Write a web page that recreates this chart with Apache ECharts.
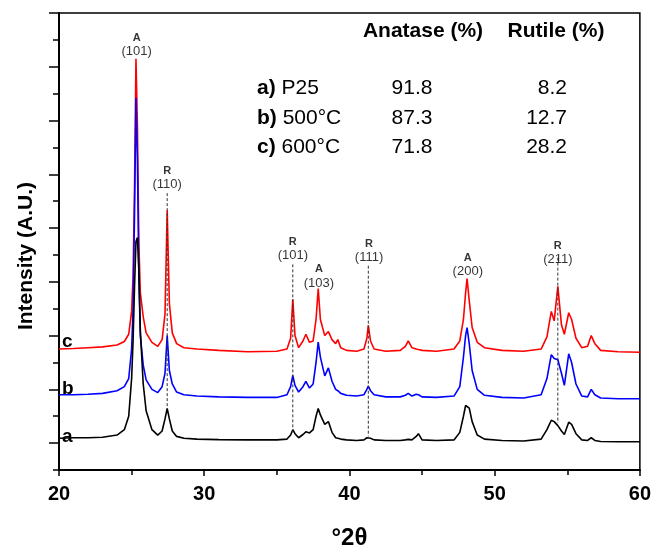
<!DOCTYPE html>
<html>
<head>
<meta charset="utf-8">
<script src="https://cdn.jsdelivr.net/npm/echarts@6/dist/echarts.min.js"></script>
<style>
html, body { margin: 0; padding: 0; background: #fff; }
#main { width: 654px; height: 555px; }
</style>
</head>
<body>
<div id="main"></div>
<script>
// 2theta positions shared by the three patterns
var twoTheta = [20, 21, 22, 23, 24, 24.5, 24.8, 25.0, 25.1, 25.2,
    25.3, 25.4, 25.5, 25.6, 25.8, 26.0, 26.4, 26.8, 27.1, 27.3,
    27.45, 27.6, 27.8, 28.1, 28.6, 29.5, 31, 33, 35, 35.7,
    35.95, 36.1, 36.25, 36.5, 36.8, 37.0, 37.25, 37.5, 37.7, 37.85,
    38.0, 38.3, 38.55, 38.8, 39.05, 39.2, 39.4, 39.8, 40.5, 41.0,
    41.2, 41.3, 41.45, 41.7, 42.5, 43.5, 43.85, 44.05, 44.3, 44.6,
    44.75, 45.0, 46, 47.2, 47.6, 47.85, 48.0, 48.1, 48.25, 48.45,
    48.8, 49.3, 50.5, 52, 53.2, 53.6, 53.9, 54.1, 54.35, 54.6,
    54.8, 55.1, 55.3, 55.6, 56.0, 56.4, 56.65, 56.9, 57.3, 58.5,
    60];

// a) P25 (black)
var curveA = [1.18, 1.2, 1.2, 1.22, 1.3, 1.5, 2.0, 3.4, 4.8, 6.8,
    8.5, 8.65, 7.4, 5.2, 3.2, 2.2, 1.5, 1.3, 1.45, 1.9,
    2.29, 1.9, 1.45, 1.25, 1.18, 1.15, 1.13, 1.12, 1.12, 1.15,
    1.3, 1.5, 1.35, 1.2, 1.32, 1.42, 1.38, 1.5, 2.0, 2.29,
    2.05, 1.7, 1.8, 1.4, 1.2, 1.18, 1.15, 1.12, 1.1, 1.12,
    1.2, 1.27, 1.18, 1.12, 1.1, 1.1, 1.12, 1.14, 1.12, 1.25,
    1.35, 1.12, 1.1, 1.12, 1.4, 2.0, 2.4, 2.47, 2.3, 1.8,
    1.3, 1.15, 1.1, 1.08, 1.15, 1.5, 1.85, 1.8, 1.65, 1.45,
    1.32, 1.78, 1.7, 1.35, 1.12, 1.1, 1.2, 1.1, 1.06, 1.05,
    1.05];

// b) 500 C (blue)
var curveB = [2.8, 2.8, 2.82, 2.85, 2.95, 3.1, 3.4, 4.5, 6.0, 9.5,
    13.85, 11.5, 7.2, 5.0, 3.9, 3.35, 3.0, 2.88, 3.1, 3.6,
    5.0, 3.7, 3.2, 2.9, 2.8, 2.75, 2.72, 2.7, 2.7, 2.8,
    3.1, 3.52, 3.15, 2.9, 3.1, 3.3, 3.05, 3.2, 4.0, 4.76,
    4.2, 3.5, 3.8, 3.3, 3.0, 2.95, 2.85, 2.78, 2.75, 2.8,
    3.0, 3.12, 2.95, 2.8, 2.72, 2.72, 2.78, 2.85, 2.75, 2.82,
    2.8, 2.72, 2.7, 2.75, 3.1, 4.2, 5.0, 5.3, 4.7, 3.7,
    3.0, 2.78, 2.7, 2.68, 2.8, 3.4, 4.29, 4.15, 4.1, 3.6,
    3.15, 4.32, 4.0, 3.2, 2.75, 2.72, 3.0, 2.8, 2.68, 2.65,
    2.65];

// c) 600 C (red)
var curveC = [4.5, 4.52, 4.55, 4.58, 4.65, 4.78, 5.05, 5.9, 7.2, 10.5,
    15.3, 12.8, 8.4, 6.6, 5.7, 5.1, 4.75, 4.6, 4.85, 5.8,
    9.66, 6.2, 5.1, 4.7, 4.55, 4.5, 4.45, 4.4, 4.42, 4.5,
    4.9, 6.35, 5.0, 4.55, 4.8, 5.05, 4.75, 4.8, 5.6, 6.75,
    5.6, 5.0, 5.15, 4.85, 4.7, 4.85, 4.55, 4.45, 4.42, 4.5,
    4.9, 5.38, 4.8, 4.5, 4.42, 4.45, 4.6, 4.8, 4.55, 4.5,
    4.48, 4.45, 4.42, 4.5, 4.8, 5.6, 6.6, 7.12, 6.3, 5.3,
    4.75, 4.55, 4.45, 4.42, 4.5, 4.95, 5.9, 5.55, 6.83, 5.4,
    5.05, 5.85, 5.6, 4.9, 4.55, 4.6, 5.0, 4.7, 4.45, 4.4,
    4.38];

// peak labels
var peakPhase = ['A', 'R', 'R', 'A', 'R', 'A', 'R'];
var peakHkl = ['(101)', '(110)', '(101)', '(103)', '(111)', '(200)', '(211)'];
var peakTheta = [25.35, 27.45, 36.1, 37.9, 41.35, 48.15, 54.35];
var peakLabelY = [15.29, 10.35, 7.7, 6.68, 7.63, 7.12, 7.56];

// dashed rutile reference lines
var refTheta = [27.45, 36.1, 41.3, 54.35];
var refTop = [10.3, 7.65, 7.6, 7.9];
var refBottom = [2.3, 1.38, 1.25, 1.75];

// phase table
var sampleTag = ['a)', 'b)', 'c)'];
var sampleName = ['P25', '500°C', '600°C'];
var anatasePct = ['91.8', '87.3', '71.8'];
var rutilePct = ['8.2', '12.7', '28.2'];

var yMajorTicks = [1, 3, 5, 7, 9, 11, 13, 15, 17];

var font = 'Liberation Sans, Arial, sans-serif';

function pairs(ys) {
    return twoTheta.map(function (t, i) { return [t, ys[i]]; });
}

var series = [
    { name: 'c', type: 'line', data: pairs(curveC), color: '#ff0000' },
    { name: 'b', type: 'line', data: pairs(curveB), color: '#0000ff' },
    { name: 'a', type: 'line', data: pairs(curveA), color: '#000000' }
].map(function (s) {
    s.showSymbol = false;
    s.symbol = 'none';
    s.lineStyle = { width: 1.6, color: s.color };
    s.animation = false;
    return s;
});

for (var i = 0; i < refTheta.length; i++) {
    series.push({
        type: 'line',
        data: [[refTheta[i], refTop[i]], [refTheta[i], refBottom[i]]],
        symbol: 'none',
        lineStyle: { color: '#333', width: 1, type: [3, 2] },
        z: 5,
        animation: false
    });
}

series.push({
    type: 'scatter',
    symbolSize: 1,
    itemStyle: { color: 'rgba(0,0,0,0)' },
    data: peakTheta.map(function (t, i) {
        return [t, peakLabelY[i]];
    }),
    label: {
        show: true,
        position: 'top',
        distance: 0,
        color: '#000',
        fontFamily: font,
        formatter: function (p) {
            return '{p|' + peakPhase[p.dataIndex] + '}\n{h|' + peakHkl[p.dataIndex] + '}';
        },
        rich: {
            p: { fontSize: 11, fontWeight: 'bold', lineHeight: 13, fontFamily: font, color: '#000' },
            h: { fontSize: 13, lineHeight: 14, fontFamily: font, color: '#000' }
        }
    },
    z: 6,
    animation: false
});

var graphics = [{
    type: 'text', x: 26, y: 256, rotation: Math.PI / 2,
    style: { text: 'Intensity (A.U.)', font: 'bold 21px ' + font, fill: '#000', textAlign: 'center', textVerticalAlign: 'middle' }
}, {
    type: 'text', x: 423, y: 31,
    style: { text: 'Anatase (%)', font: 'bold 21px ' + font, fill: '#000', textAlign: 'center', textVerticalAlign: 'middle' }
}, {
    type: 'text', x: 556, y: 31,
    style: { text: 'Rutile (%)', font: 'bold 21px ' + font, fill: '#000', textAlign: 'center', textVerticalAlign: 'middle' }
}];

var rowY = [88, 118, 147];
for (var r = 0; r < 3; r++) {
    graphics.push({
        type: 'text', x: 257, y: rowY[r],
        style: {
            text: '{b|' + sampleTag[r] + '} ' + sampleName[r],
            font: '21px ' + font, fill: '#000', textVerticalAlign: 'middle',
            rich: { b: { fontWeight: 'bold', fontSize: 21, fontFamily: font } }
        }
    });
    graphics.push({
        type: 'text', x: 412, y: rowY[r],
        style: { text: anatasePct[r], font: '21px ' + font, fill: '#000', textAlign: 'center', textVerticalAlign: 'middle' }
    });
    graphics.push({
        type: 'text', x: 567, y: rowY[r],
        style: { text: rutilePct[r], font: '21px ' + font, fill: '#000', textAlign: 'right', textVerticalAlign: 'middle' }
    });
}

var letterY = { c: 342, b: 389, a: 437 };
['c', 'b', 'a'].forEach(function (k) {
    graphics.push({
        type: 'text', x: 62, y: letterY[k],
        style: { text: k, font: 'bold 19px ' + font, fill: '#000', textVerticalAlign: 'middle' }
    });
});

var myChart = echarts.init(document.getElementById('main'));
var option = {
    animation: false,
    backgroundColor: '#fff',
    grid: {
        left: 59, right: 13, top: 13, bottom: 74,
        show: true, borderColor: '#000', borderWidth: 1.5
    },
    xAxis: {
        type: 'value',
        min: 20, max: 60, interval: 10,
        name: '°2θ',
        nameLocation: 'middle',
        nameGap: 56,
        nameTextStyle: { fontSize: 24, fontWeight: 'bold', color: '#000', fontFamily: font },
        axisLine: { show: true, onZero: false, lineStyle: { color: '#000', width: 2 } },
        axisTick: { show: true, length: 6, lineStyle: { color: '#000', width: 1.5 } },
        minorTick: { show: true, splitNumber: 2, length: 5, lineStyle: { color: '#000', width: 1.5 } },
        axisLabel: { fontSize: 20, fontWeight: 'bold', color: '#000', margin: 14, fontFamily: font },
        splitLine: { show: false }
    },
    yAxis: [{
        type: 'value',
        min: 0, max: 17, interval: 1,
        axisLine: { show: true, onZero: false, lineStyle: { color: '#000', width: 2 } },
        axisTick: { show: true, length: 6, lineStyle: { color: '#000', width: 1.5 } },
        axisLabel: { show: false },
        splitLine: { show: false }
    }, {
        type: 'value',
        min: 0, max: 17,
        position: 'left',
        axisLine: { show: false },
        axisTick: { show: true, length: 10, customValues: yMajorTicks, lineStyle: { color: '#000', width: 1.5 } },
        axisLabel: { show: false },
        splitLine: { show: false }
    }],
    series: series,
    graphic: graphics
};
myChart.setOption(option);
</script>
</body>
</html>
